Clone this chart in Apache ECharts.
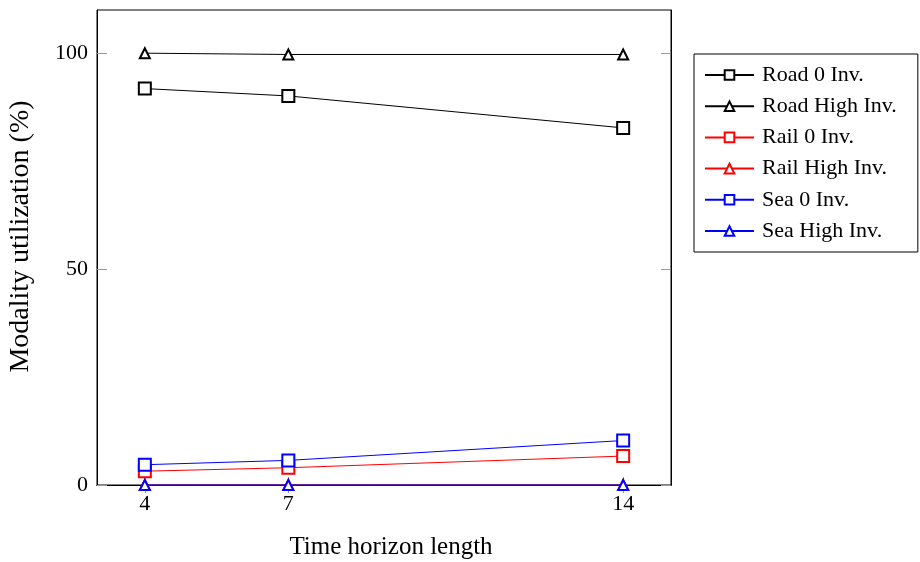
<!DOCTYPE html>
<html><head><meta charset="utf-8">
<script src="https://cdn.jsdelivr.net/npm/echarts@6/dist/echarts.min.js"></script>
<style>html,body{margin:0;padding:0;background:#fff}#c{width:920px;height:562px}</style>
</head><body><div id="c"></div>
<script>
const horizons = [4, 7, 14];
const xTicks = [4, 7, 14];
const yTicks = [0, 50, 100];
const road0 = [91.8, 90.1, 82.7];
const roadHigh = [100, 99.7, 99.7];
const rail0 = [3.2, 4.0, 6.7];
const railHigh = [0, 0, 0];
const sea0 = [4.7, 5.7, 10.3];
const seaHigh = [0, 0, 0];

const font = 'Liberation Serif';
function mk(name, vals, color, sym, size) {
  return {
    name, type: 'line', data: horizons.map((x, i) => [x, vals[i]]),
    symbol: sym, symbolSize: size, showSymbol: true,
    lineStyle: { color, width: 1 }, itemStyle: { color, borderColor: color, borderWidth: 1.1 },
    emphasis: { disabled: true }, animation: false, clip: false
  };
}
const chart = echarts.init(document.getElementById('c'));
chart.setOption({
  backgroundColor: '#fff',
  textStyle: { fontFamily: font },
  grid: { left: 97, right: 249, top: 10, bottom: 77, show: true, borderColor: '#000', borderWidth: 1,
          containLabel: false, outerBoundsMode: 'none' },
  legend: {
    orient: 'vertical', left: 694, top: 54,
    backgroundColor: '#fff', borderColor: '#000', borderWidth: 1,
    padding: [10, 21, 10, 10], itemWidth: 49, itemHeight: 12, itemGap: 9.2,
    textStyle: { fontFamily: font, fontSize: 22, lineHeight: 22, color: '#000', padding: [0, 0, 0, 3] },
    data: ['Road 0 Inv.', 'Road High Inv.', 'Rail 0 Inv.', 'Rail High Inv.', 'Sea 0 Inv.', 'Sea High Inv.']
  },
  xAxis: [{
    type: 'value', min: 3, max: 15,
    name: 'Time horizon length', nameLocation: 'middle', nameGap: 50,
    nameTextStyle: { fontFamily: font, fontSize: 25, color: '#000', padding: [0, 0, 0, 14] },
    axisLine: { show: true, lineStyle: { color: '#000' } },
    axisTick: { show: true, inside: true, length: 8, customValues: xTicks, lineStyle: { color: '#999' } },
    axisLabel: { customValues: xTicks, fontFamily: font, fontSize: 22, color: '#000', margin: 8 },
    splitLine: { show: false }
  }, {
    type: 'value', min: 3, max: 15, position: 'top',
    axisLine: { show: true, lineStyle: { color: '#000' } },
    axisTick: { show: true, inside: true, length: 8, customValues: xTicks, lineStyle: { color: '#999' } },
    axisLabel: { show: false }, splitLine: { show: false }
  }],
  yAxis: [{
    type: 'value', min: 0, max: 110,
    name: 'Modality utilization (%)', nameLocation: 'middle', nameGap: 62,
    nameTextStyle: { fontFamily: font, fontSize: 28, color: '#000', padding: [0, 0, 0, 22] },
    axisLine: { show: true, lineStyle: { color: '#000' } },
    axisTick: { show: true, inside: true, length: 10, customValues: yTicks, lineStyle: { color: '#999' } },
    axisLabel: { customValues: yTicks, fontFamily: font, fontSize: 22, color: '#000', margin: 9 },
    splitLine: { show: false }
  }, {
    type: 'value', min: 0, max: 110, position: 'right',
    axisLine: { show: true, lineStyle: { color: '#000' } },
    axisTick: { show: true, inside: true, length: 10, customValues: yTicks, lineStyle: { color: '#999' } },
    axisLabel: { show: false }, splitLine: { show: false }
  }],
  series: [
    mk('Road 0 Inv.', road0, '#000', 'emptyRect', 12),
    mk('Road High Inv.', roadHigh, '#000', 'emptyTriangle', 10),
    mk('Rail 0 Inv.', rail0, '#ff0000', 'emptyRect', 12),
    mk('Rail High Inv.', railHigh, '#ff0000', 'emptyTriangle', 10),
    mk('Sea 0 Inv.', sea0, '#0000ff', 'emptyRect', 12),
    mk('Sea High Inv.', seaHigh, '#0000ff', 'emptyTriangle', 10)
  ]
});
</script></body></html>
